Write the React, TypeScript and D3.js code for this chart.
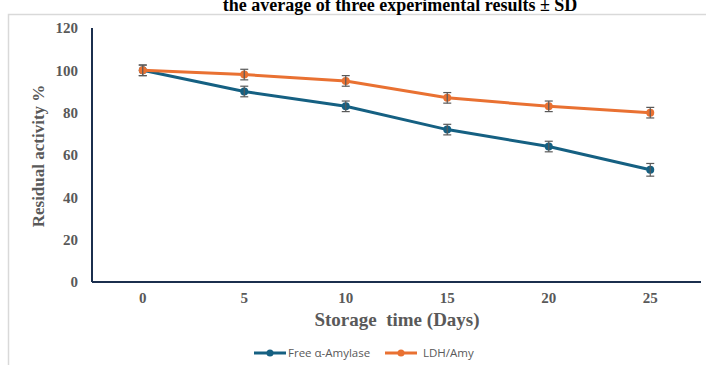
import React from 'react';
import * as d3 from 'd3';

// Storage time (days) and residual activity (%) ± SD
const days = [0, 5, 10, 15, 20, 25];
const freeAmylase = [100, 90, 83, 72, 64, 53];
const freeSd = [2.5, 2.5, 2.5, 2.5, 2.5, 3];
const ldhAmy = [100, 98, 95, 87, 83, 80];
const ldhSd = [2.5, 2.5, 2.5, 2.5, 2.5, 2.5];
const yTicks = [0, 20, 40, 60, 80, 100, 120];

const series = [
  { name: 'Free α-Amylase', values: freeAmylase, sd: freeSd, color: '#156082' },
  { name: 'LDH/Amy', values: ldhAmy, sd: ldhSd, color: '#E97132' },
];

const W = 706;
const H = 365;
const serif = '"Liberation Serif", "Times New Roman", serif';
const gray = '#595959';

export default function App() {
  const x = d3.scalePoint<number>().domain(days).range([92, 701]).padding(0.5);
  const y = d3.scaleLinear().domain([0, 120]).range([282, 28]);
  const line = d3.line<number>().x((_, i) => x(days[i]) as number).y(d => y(d));

  return (
    <svg width={W} height={H} style={{ position: 'absolute', left: 0, top: 0, background: '#fff' }}>
      {/* frame */}
      <path d={`M8.5,${H}V14.5H${W}`} fill="none" stroke="#d9d9d9" strokeWidth={1.5} />
      <text x={400} y={11} textAnchor="middle" fontFamily={serif} fontWeight="bold" fontSize={18} fill="#000">
        the average of three experimental results ± SD
      </text>

      {/* axes */}
      <line x1={92} x2={92} y1={y(120)} y2={y(0)} stroke="#1b2f4e" strokeWidth={2} />
      <line x1={92} x2={701} y1={y(0)} y2={y(0)} stroke="#1b2f4e" strokeWidth={2} />
      {yTicks.map(t => (
        <text key={t} x={78} y={y(t)} dy="0.35em" textAnchor="end" fontFamily={serif}
          fontWeight="bold" fontSize={15} fill={gray}>{t}</text>
      ))}
      {days.map(d => (
        <text key={d} x={x(d)} y={298} dy="0.35em" textAnchor="middle" fontFamily={serif}
          fontWeight="bold" fontSize={15} fill={gray}>{d}</text>
      ))}
      <text x={397} y={319} dy="0.35em" textAnchor="middle" fontFamily={serif} fontWeight="bold"
        fontSize={19} fill={gray} style={{ whiteSpace: 'pre' }}>Storage  time (Days)</text>
      <text transform="translate(38,156) rotate(-90)" dy="0.35em" textAnchor="middle" fontFamily={serif}
        fontWeight="bold" fontSize={17} fill={gray}>Residual activity %</text>

      {/* series */}
      {series.map(s => (
        <g key={s.name}>
          <path d={line(s.values) || ''} fill="none" stroke={s.color} strokeWidth={3} />
          {s.values.map((v, i) => {
            const cx = x(days[i]) as number;
            return (
              <g key={i}>
                <circle cx={cx} cy={y(v)} r={4} fill={s.color} />
                <g stroke={gray} strokeWidth={1.2}>
                  <line x1={cx} x2={cx} y1={y(v + s.sd[i])} y2={y(v - s.sd[i])} />
                  <line x1={cx - 4} x2={cx + 4} y1={y(v + s.sd[i])} y2={y(v + s.sd[i])} />
                  <line x1={cx - 4} x2={cx + 4} y1={y(v - s.sd[i])} y2={y(v - s.sd[i])} />
                </g>
              </g>
            );
          })}
        </g>
      ))}

      {/* legend */}
      {series.map((s, i) => {
        const lx = i === 0 ? 254 : 385;
        return (
          <g key={s.name}>
            <line x1={lx} x2={lx + 32} y1={353} y2={353} stroke={s.color} strokeWidth={3} />
            <circle cx={lx + 16} cy={353} r={3.5} fill={s.color} />
            <text x={lx + (i === 0 ? 34 : 38)} y={353} dy="0.35em" fontFamily='"Open Sans", sans-serif'
              fontSize={11.5} fill={gray}>{s.name}</text>
          </g>
        );
      })}
    </svg>
  );
}
